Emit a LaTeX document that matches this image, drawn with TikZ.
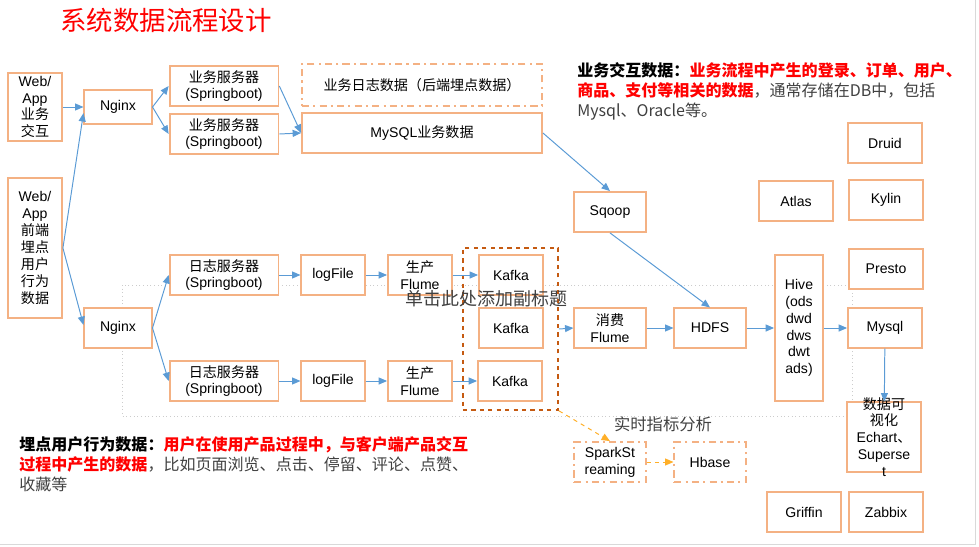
\documentclass[tikz,border=0pt]{standalone}
\usepackage{fontspec}
\setmainfont{Liberation Sans}
\newfontfamily\cjk{Noto Sans CJK SC}
\usetikzlibrary{positioning, arrows.meta, calc}
\definecolor{boxorange}{RGB}{244,177,131}
\definecolor{kafkaorange}{RGB}{197,90,17}
\definecolor{sparkorange}{RGB}{255,175,40}
\definecolor{arrblue}{RGB}{91,155,213}
\definecolor{subgray}{RGB}{64,64,64}
\tikzset{
    box/.style={rectangle, draw=boxorange, fill=white, line width=1.3pt, align=center, inner sep=1pt, font=\fontsize{10}{12}\selectfont, minimum width=1.8cm, minimum height=1cm},
    dashbox/.style={box, dash pattern=on 5pt off 3pt on 1.5pt off 3pt},
    groupbox/.style={rectangle, draw=kafkaorange, dashed, line width=1.2pt, minimum width=2.38cm, minimum height=4.05cm},
    arr/.style={-{Triangle[length=6pt, width=5pt]}, color=arrblue, line width=0.7pt},
    arrdash/.style={-{Triangle[length=6pt, width=5pt]}, color=sparkorange, line width=0.7pt, dashed},
    infotext/.style={anchor=north west, align=left, inner sep=0pt, font=\cjk\fontsize{11.4}{14.2}\selectfont}
}
\begin{document}
\begin{tikzpicture}[x=0.025cm, y=-0.025cm]
    \useasboundingbox (0,0) rectangle (979,546);
    \draw[gray!30, line width=1pt] (975.5,0) -- (975.5,544.5) -- (0,544.5);
    \draw[gray!40, dotted, line width=0.6pt] (122,285) rectangle (852,416);
    \node[font=\cjk\fontsize{18.8}{22}\selectfont, text=red] (title) at (166,20) {系统数据流程设计};
    % business side
    \node[box, minimum width=1.35cm, minimum height=1.7cm] (web1) at (35,107) {Web/\\App\\{\cjk 业务}\\{\cjk 交互}};
    \node[box, minimum width=1.35cm, minimum height=3.5cm] (web2) at (35,248) {Web/\\App\\{\cjk 前端}\\{\cjk 埋点}\\{\cjk 用户}\\{\cjk 行为}\\{\cjk 数据}};
    \node[box, minimum width=1.68cm, minimum height=0.85cm] (nginx1) at (118,107) {Nginx};
    \node[box, minimum width=1.68cm, minimum height=0.98cm] (nginx2) at (118,328) {Nginx};
    \node[box, minimum width=2.72cm] (srv1) at (224,86) {{\cjk 业务服务器}\\(Springboot)};
    \node[box, minimum width=2.72cm] (srv2) at (224,134) {{\cjk 业务服务器}\\(Springboot)};
    \node[dashbox, minimum width=6cm, minimum height=1.05cm] (bizlog) at (422,85) {\cjk 业务日志数据（后端埋点数据）};
    \node[box, minimum width=6cm, minimum height=1.02cm] (mysql) at (422,133) {MySQL{\cjk 业务数据}};
    \node[box] (sqoop) at (610,212) {Sqoop};
    % log side
    \node[box, minimum width=2.72cm, minimum height=1.02cm] (log1) at (224,275) {{\cjk 日志服务器}\\(Springboot)};
    \node[box, minimum width=2.72cm, minimum height=1.02cm] (log2) at (224,381) {{\cjk 日志服务器}\\(Springboot)};
    \node[box, minimum width=1.58cm, minimum height=1.02cm] (file1) at (333,275) {logFile};
    \node[box, minimum width=1.58cm, minimum height=1.02cm] (file2) at (333,381) {logFile};
    \node[box, minimum width=1.6cm, minimum height=1.02cm] (flume1) at (420,275) {{\cjk 生产}\\Flume};
    \node[box, minimum width=1.6cm, minimum height=1.02cm] (flume2) at (420,381) {{\cjk 生产}\\Flume};
    \node[groupbox] (kgroup) at (510.5,329) {};
    \node[box, minimum width=1.6cm] (kafka1) at (511,275) {Kafka};
    \node[box, minimum width=1.6cm] (kafka2) at (511,328) {Kafka};
    \node[box, minimum width=1.6cm] (kafka3) at (510,381) {Kafka};
    \node[box, minimum width=1.78cm, minimum height=0.98cm] (consume) at (610,328) {{\cjk 消费}\\Flume};
    \node[box, minimum width=1.78cm, minimum height=0.98cm] (hdfs) at (710,328) {HDFS};
    \node[box, minimum width=1.2cm, minimum height=3.65cm] (hive) at (799,328) {Hive\\(ods\\dwd\\dws\\dwt\\ads)};
    \node[box, minimum width=1.85cm] (presto) at (886,269) {Presto};
    \node[box, minimum width=1.85cm, minimum height=0.98cm] (mysqlr) at (885,328) {Mysql};
    \node[box, minimum width=1.83cm, minimum height=1.73cm, label={[align=center, font=\fontsize{10}{12}\selectfont]center:{\cjk 数据可}\\{\cjk 视化}\\Echart{\cjk 、}\\Superse\\t}] (viz) at (884,437) {};
    \node[box, minimum width=1.85cm] (druid) at (885,143) {Druid};
    \node[box, minimum width=1.85cm] (atlas) at (796,201) {Atlas};
    \node[box, minimum width=1.85cm] (kylin) at (886,200) {Kylin};
    \node[box, minimum width=1.85cm] (griffin) at (804,512) {Griffin};
    \node[box, minimum width=1.85cm] (zabbix) at (886,512) {Zabbix};
    \node[dashbox, minimum width=1.78cm] (spark) at (610,462) {SparkSt\\reaming};
    \node[dashbox, minimum width=1.78cm] (hbase) at (710,462) {Hbase};
    % connectors
    \draw[arr] (web1) -- (nginx1); \draw[arr] (web2.east) -- (nginx1.190);
    \draw[arr] (web2.east) -- (nginx2.175);
    \draw[arr] (nginx1.east) -- (srv1.west); \draw[arr] (nginx1.east) -- (srv2.west);
    \draw[arr] (srv1.east) -- (mysql.west); \draw[arr] (srv2.east) -- (mysql.west);
    \draw[arr] (mysql.east) -- (sqoop.north); \draw[arr] (sqoop.south) -- (hdfs.north);
    \draw[arr] (nginx2.east) -- (log1.west); \draw[arr] (nginx2.east) -- (log2.west);
    \draw[arr] (log1) -- (file1); \draw[arr] (file1) -- (flume1); \draw[arr] (flume1) -- (kafka1);
    \draw[arr] (log2) -- (file2); \draw[arr] (file2) -- (flume2); \draw[arr] (flume2) -- (kafka3);
    \draw[arr] (kgroup.east) -- (consume.west);
    \draw[arr] (consume) -- (hdfs); \draw[arr] (hdfs) -- (hive); \draw[arr] (hive) -- (mysqlr);
    \draw[arr] (mysqlr) -- (viz);
    \draw[arrdash] (kgroup.south east) -- (spark.north); \draw[arrdash] (spark) -- (hbase);
    % texts
    \node[font=\cjk\fontsize{12.8}{15}\selectfont, text=subgray] (subtitle) at (486,299) {单击此处添加副标题};
    \node[font=\cjk\fontsize{11.6}{14}\selectfont, text=subgray] (rtlabel) at (663,424) {实时指标分析};
    \node[infotext, text=subgray] (bizinfo) at (577,62) {\textbf{\color{black}业务交互数据：}\textbf{\color{red}业务流程中产生的登录、订单、用户、}\\\textbf{\color{red}商品、支付等相关的数据}，通常存储在DB中，包括\\Mysql、Oracle等。};
    \node[infotext, text=subgray] (trackinfo) at (19,436) {\textbf{\color{black}埋点用户行为数据：}\textbf{\color{red}用户在使用产品过程中，与客户端产品交互}\\\textbf{\color{red}过程中产生的数据}，比如页面浏览、点击、停留、评论、点赞、\\收藏等};
\end{tikzpicture}
\end{document}
